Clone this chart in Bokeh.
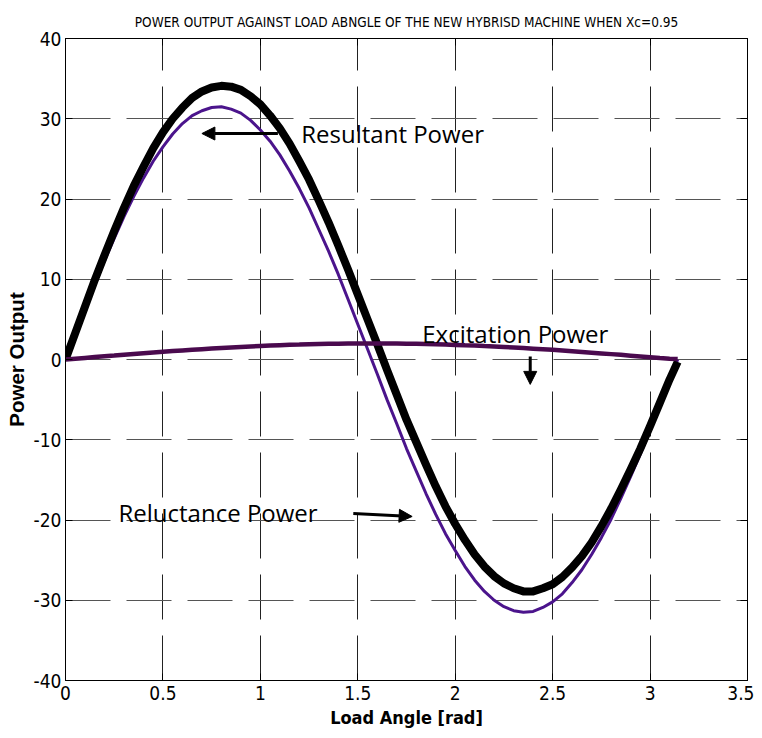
from bokeh.plotting import figure
from bokeh.models import Range1d, FixedTicker, LinearAxis, Label, Arrow, NormalHead
from bokeh.embed import file_html
from bokeh.resources import INLINE

# ---- data ----
load_angle = [0.00, 0.05, 0.10, 0.15, 0.20, 0.25, 0.30, 0.35, 0.40, 0.45,
              0.50, 0.55, 0.60, 0.65, 0.70, 0.75, 0.80, 0.85, 0.90, 0.95,
              1.00, 1.05, 1.10, 1.15, 1.20, 1.25, 1.30, 1.35, 1.40, 1.45,
              1.50, 1.55, 1.60, 1.65, 1.70, 1.75, 1.80, 1.85, 1.90, 1.95,
              2.00, 2.05, 2.10, 2.15, 2.20, 2.25, 2.30, 2.35, 2.40, 2.45,
              2.50, 2.55, 2.60, 2.65, 2.70, 2.75, 2.80, 2.85, 2.90, 2.95,
              3.00, 3.05, 3.10, 3.1416]
resultant_power = [0.0, 3.3, 6.6, 9.9, 13.0, 16.0, 18.9, 21.6, 24.0, 26.3,
                   28.3, 30.0, 31.4, 32.6, 33.4, 33.9, 34.1, 34.0, 33.6, 32.8,
                   31.8, 30.4, 28.8, 26.9, 24.7, 22.4, 19.8, 17.1, 14.2, 11.2,
                   8.1, 5.0, 1.9, -1.3, -4.4, -7.5, -10.3, -13.1, -15.8, -18.3,
                   -20.5, -22.5, -24.3, -25.8, -27.0, -27.9, -28.5, -28.9, -28.9, -28.5,
                   -28.0, -27.1, -25.9, -24.5, -22.8, -20.8, -18.6, -16.2, -13.7, -11.1,
                   -8.3, -5.4, -2.5, -0.3]
reluctance_power = [0.0, 3.1, 6.3, 9.3, 12.3, 15.1, 17.8, 20.3, 22.6, 24.7,
                    26.5, 28.1, 29.4, 30.4, 31.0, 31.4, 31.5, 31.2, 30.7, 29.8,
                    28.6, 27.2, 25.5, 23.5, 21.3, 18.9, 16.2, 13.5, 10.6, 7.5,
                    4.4, 1.3, -1.8, -5.0, -8.0, -11.1, -13.9, -16.7, -19.3, -21.7,
                    -23.8, -25.8, -27.5, -28.9, -30.0, -30.8, -31.3, -31.5, -31.4, -30.9,
                    -30.2, -29.2, -27.8, -26.2, -24.3, -22.2, -19.9, -17.3, -14.6, -11.8,
                    -8.8, -5.7, -2.6, 0.0]
excitation_power = [0.0, 0.10, 0.20, 0.30, 0.40, 0.49, 0.59, 0.69, 0.78, 0.87,
                    0.96, 1.05, 1.13, 1.21, 1.29, 1.36, 1.43, 1.50, 1.57, 1.63,
                    1.68, 1.73, 1.78, 1.83, 1.86, 1.90, 1.93, 1.95, 1.97, 1.99,
                    2.00, 2.00, 2.00, 1.99, 1.98, 1.97, 1.95, 1.92, 1.89, 1.86,
                    1.82, 1.77, 1.73, 1.67, 1.62, 1.56, 1.49, 1.42, 1.35, 1.28,
                    1.20, 1.12, 1.03, 0.94, 0.85, 0.76, 0.67, 0.58, 0.48, 0.38,
                    0.28, 0.18, 0.10, 0.05]

x_ticks = [0, 0.5, 1, 1.5, 2, 2.5, 3, 3.5]
x_tick_labels = ["0", "0.5", "1", "1.5", "2", "2.5", "3", "3.5"]
y_ticks = [-40, -30, -20, -10, 0, 10, 20, 30, 40]
y_tick_labels = ["-40", "-30", "-20", "-10", "0", "10", "20", "30", "40"]

title_text = "POWER OUTPUT AGAINST LOAD ABNGLE OF THE NEW HYBRISD MACHINE WHEN Xc=0.95"
x_label = "Load Angle [rad]"
y_label = "Power Output"

NARROW = "DejaVu Sans Condensed"

p = figure(width=754, height=734, output_backend="svg", toolbar_location=None,
           x_range=Range1d(0, 3.5), y_range=Range1d(-40, 40),
           min_border_left=65, min_border_top=38, min_border_right=7, min_border_bottom=54)

p.background_fill_color = "white"
p.border_fill_color = "white"
p.outline_line_color = "black"
p.outline_line_width = 1

p.title.text = title_text
p.title.align = "center"
p.title.text_font = NARROW
p.title.text_font_size = "13.5px"
p.title.text_font_style = "normal"
p.title.text_color = "black"
p.title.standoff = 17

# axes
for ax, ticks, labels in ((p.xaxis[0], x_ticks, x_tick_labels), (p.yaxis[0], y_ticks, y_tick_labels)):
    ax.ticker = FixedTicker(ticks=ticks)
    ax.major_label_overrides = {t: l for t, l in zip(ticks, labels)}
    ax.major_tick_in = 7
    ax.major_tick_out = 0
    ax.minor_tick_line_color = None
    ax.major_tick_line_color = "black"
    ax.axis_line_color = "black"
    ax.major_label_text_font = NARROW
    ax.major_label_text_font_size = "19px"
    ax.major_label_text_color = "black"

p.xaxis.major_label_standoff = 5
p.yaxis.major_label_standoff = 4
p.xaxis.axis_label = x_label
p.xaxis.axis_label_text_font = NARROW
p.xaxis.axis_label_text_font_size = "18px"
p.xaxis.axis_label_text_font_style = "bold"
p.xaxis.axis_label_text_color = "black"
p.xaxis.axis_label_standoff = 4

p.yaxis.axis_label = y_label
p.yaxis.axis_label_text_font = "Liberation Sans"
p.yaxis.axis_label_text_font_size = "20.5px"
p.yaxis.axis_label_text_font_style = "bold"
p.yaxis.axis_label_text_color = "black"
p.yaxis.axis_label_standoff = 3

right_axis = LinearAxis(ticker=FixedTicker(ticks=y_ticks), major_label_text_font_size="1px",
                        major_label_text_color=None,
                        major_tick_in=7, major_tick_out=0, minor_tick_line_color=None,
                        major_label_standoff=0, axis_line_color="black")
top_axis = LinearAxis(ticker=FixedTicker(ticks=x_ticks), major_label_text_font_size="1px",
                      major_label_text_color=None,
                      major_tick_in=7, major_tick_out=0, minor_tick_line_color=None,
                      major_label_standoff=0, axis_line_color="black")
p.add_layout(right_axis, "right")
p.add_layout(top_axis, "above")

# grid
p.xgrid.ticker = FixedTicker(ticks=x_ticks)
p.ygrid.ticker = FixedTicker(ticks=y_ticks)
p.xgrid.grid_line_color = "#222222"
p.ygrid.grid_line_color = "#555555"
p.xgrid.grid_line_dash = "45 16"
p.ygrid.grid_line_dash = "45 16"
p.xgrid.grid_line_width = 1
p.ygrid.grid_line_width = 1

# curves
p.line(load_angle, reluctance_power, line_color="#4B148C", line_width=3)
p.line(load_angle, resultant_power, line_color="black", line_width=8, line_join="round")
p.line(load_angle, excitation_power, line_color="#4A0A4E", line_width=4.5)

# annotations
for txt, x, y in (("Resultant Power", 1.210, 28.1),
                  ("Excitation Power", 1.831, 3.2),
                  ("Reluctance Power", 0.272, -19.1)):
    p.add_layout(Label(x=x, y=y, text=txt, text_font="Open Sans", text_font_size="24px",
                       text_color="black", text_baseline="alphabetic", text_align="left"))

for xs, ys, xe, ye in ((1.09, 28.16, 0.70, 28.16),
                       (2.385, 0.37, 2.385, -3.1),
                       (1.477, -19.19, 1.779, -19.56)):
    p.add_layout(Arrow(end=NormalHead(size=13, fill_color="black", line_color="black"),
                       x_start=xs, y_start=ys, x_end=xe, y_end=ye,
                       line_color="black", line_width=3))

open("out.html", "w").write(file_html(p, INLINE))
